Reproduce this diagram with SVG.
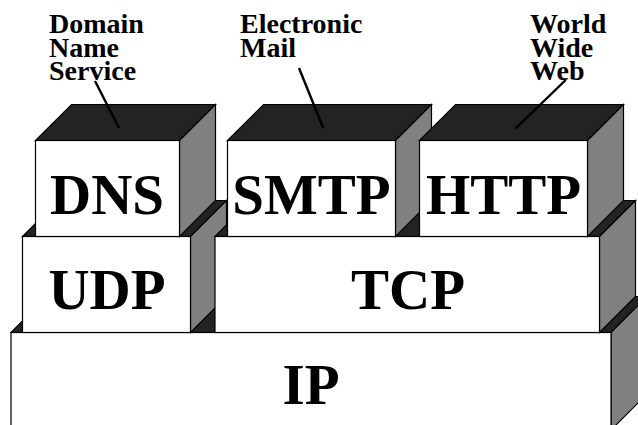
<svg xmlns="http://www.w3.org/2000/svg" width="638" height="425" viewBox="0 0 638 425">
  <style>
    .front { fill: #ffffff; stroke: #000000; stroke-width: 1.2; }
    .top { fill: #232323; stroke: #000000; stroke-width: 1.2; }
    .side { fill: #808080; stroke: #000000; stroke-width: 1.2; }
    text { font-family: 'Liberation Serif', 'Times New Roman', Times, serif; font-weight: 700; fill: #000; }
    .big { font-size: 57px; text-anchor: middle; }
    .note { font-size: 28px; }
    .leader { stroke: #000; stroke-width: 2.4; fill: none; }
  </style>

  <rect width="638" height="425" fill="#ffffff"/>

  <!-- Network layer -->
  <g id="ip">
    <polygon class="top" points="11,332.5 47,296.5 647,296.5 611,332.5"/>
    <polygon class="side" points="611,332.5 647,296.5 647,394 611,430"/>
    <rect class="front" x="11" y="332.5" width="600" height="98"/>
    <text class="big" x="311" y="404" font-family="Liberation Serif, serif">IP</text>
  </g>

  <!-- Transport layer -->
  <g id="udp">
    <polygon class="top" points="22.5,236.5 58.5,200.5 226.5,200.5 190.5,236.5"/>
    <polygon class="side" points="190.5,236.5 226.5,200.5 226.5,296.5 190.5,332.5"/>
    <rect class="front" x="22.5" y="236.5" width="168" height="96"/>
    <text class="big" x="107" y="308.5" font-family="Liberation Serif, serif">UDP</text>
  </g>

  <g id="tcp">
    <polygon class="top" points="215,236.5 251,200.5 635.5,200.5 599.5,236.5"/>
    <polygon class="side" points="599.5,236.5 635.5,200.5 635.5,296.5 599.5,332.5"/>
    <rect class="front" x="215" y="236.5" width="384.5" height="96"/>
    <text class="big" x="408" y="308.5" font-family="Liberation Serif, serif">TCP</text>
  </g>

  <!-- Application layer -->
  <g id="dns">
    <polygon class="top" points="35.5,140.5 71.5,104.5 215.5,104.5 179.5,140.5"/>
    <polygon class="side" points="179.5,140.5 215.5,104.5 215.5,200.5 179.5,236.5"/>
    <rect class="front" x="35.5" y="140.5" width="144" height="96"/>
    <text class="big" x="107" y="213.5" font-family="Liberation Serif, serif">DNS</text>
  </g>

  <g id="smtp">
    <polygon class="top" points="227.5,140.5 263.5,104.5 431.5,104.5 395.5,140.5"/>
    <polygon class="side" points="395.5,140.5 431.5,104.5 431.5,200.5 395.5,236.5"/>
    <rect class="front" x="227.5" y="140.5" width="168" height="96"/>
    <text class="big" x="311.5" y="213.5" font-family="Liberation Serif, serif">SMTP</text>
  </g>

  <g id="http">
    <polygon class="top" points="419.5,140.5 455.5,104.5 623.5,104.5 587.5,140.5"/>
    <polygon class="side" points="587.5,140.5 623.5,104.5 623.5,200.5 587.5,236.5"/>
    <rect class="front" x="419.5" y="140.5" width="168" height="96"/>
    <text class="big" x="503.5" y="213.5" font-family="Liberation Serif, serif">HTTP</text>
  </g>

  <!-- Callout names -->
  <g id="labels" font-family="Liberation Serif, serif">
    <text class="note" x="49" y="33.3">Domain</text>
    <text class="note" x="49" y="56.6">Name</text>
    <text class="note" x="49" y="80">Service</text>
    <text class="note" x="240" y="33.3">Electronic</text>
    <text class="note" x="240" y="56.6">Mail</text>
    <text class="note" x="530" y="33.3">World</text>
    <text class="note" x="530" y="56.6">Wide</text>
    <text class="note" x="530" y="80">Web</text>
  </g>

  <!-- Leader lines from names to boxes -->
  <g id="connectors">
    <line class="leader" x1="95" y1="81" x2="119" y2="128"/>
    <line class="leader" x1="299" y1="68" x2="323.3" y2="128.3"/>
    <line class="leader" x1="565.7" y1="80" x2="515.7" y2="128.3"/>
  </g>
</svg>
